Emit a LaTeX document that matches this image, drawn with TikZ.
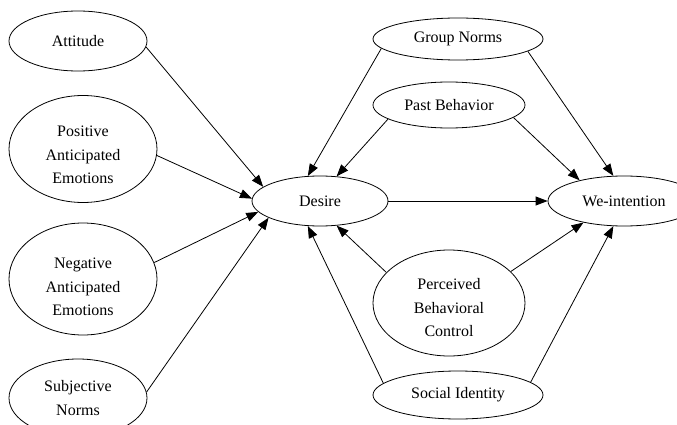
\documentclass[tikz,border=0pt]{standalone}
\usepackage{fontspec}
\setmainfont{Liberation Serif}
\usetikzlibrary{shapes.geometric,arrows.meta}
\begin{document}
\begin{tikzpicture}[x=1pt,y=-1pt,
  var/.style={draw, ellipse, line width=0.8pt, inner sep=0pt, align=center,
    font=\fontsize{16}{23.5}\selectfont},
  txt/.style={align=center, inner sep=0pt, font=\fontsize{16}{23.5}\selectfont},
  arr/.style={-{Triangle[length=12pt,width=9pt]}, line width=0.8pt}]
\useasboundingbox (0,0) rectangle (677,425);
\clip (0,0) rectangle (677,425);
% left column
\node[var, minimum width=138pt, minimum height=60pt] (att) at (78,41) {Attitude};
\node[var, minimum width=148pt, minimum height=107pt,
  label={[txt, yshift=-6pt]center:Positive\\Anticipated\\Emotions}] (pos) at (83,149) {};
\node[var, minimum width=148pt, minimum height=112pt,
  label={[txt, yshift=-8pt]center:Negative\\Anticipated\\Emotions}] (neg) at (83,279) {};
\node[var, minimum width=138pt, minimum height=78pt] (subj) at (78,398) {Subjective\\Norms};
% centre
\node[var, minimum width=136pt, minimum height=50pt] (des) at (320,201) {Desire};
\node[var, minimum width=170pt, minimum height=42pt] (grp) at (458,39) {Group Norms};
\node[var, minimum width=152pt, minimum height=46pt] (past) at (449,105) {Past Behavior};
\node[var, minimum width=152pt, minimum height=106pt,
  label={[txt, yshift=-5pt]center:Perceived\\Behavioral\\Control}] (pbc) at (449,303) {};
\node[var, minimum width=170pt, minimum height=48pt] (soc) at (458,395) {Social Identity};
% right
\node[var, minimum width=152pt, minimum height=50pt] (we) at (624,201) {We-intention};
% arrows into Desire
\draw[arr] (att.-5) -- (des.166);
\draw[arr] (pos.-5) -- (des.178);
\draw[arr] (neg.13) -- (des.-170);
\draw[arr] (subj.5) -- (des.-162);
\draw[arr] (grp.-173) -- (des.116);
\draw[arr] (past.-167) -- (des.56);
\draw[arr] (pbc.154) -- (des.-56);
\draw[arr] (soc.171) -- (des.-116);
% arrows into We-intention
\draw[arr] (des.east) -- (we.west);
\draw[arr] (grp.-10) -- (we.113);
\draw[arr] (past.-11) -- (we.155);
\draw[arr] (pbc.27) -- (we.-152);
\draw[arr] (soc.10) -- (we.-113);
\end{tikzpicture}
\end{document}
